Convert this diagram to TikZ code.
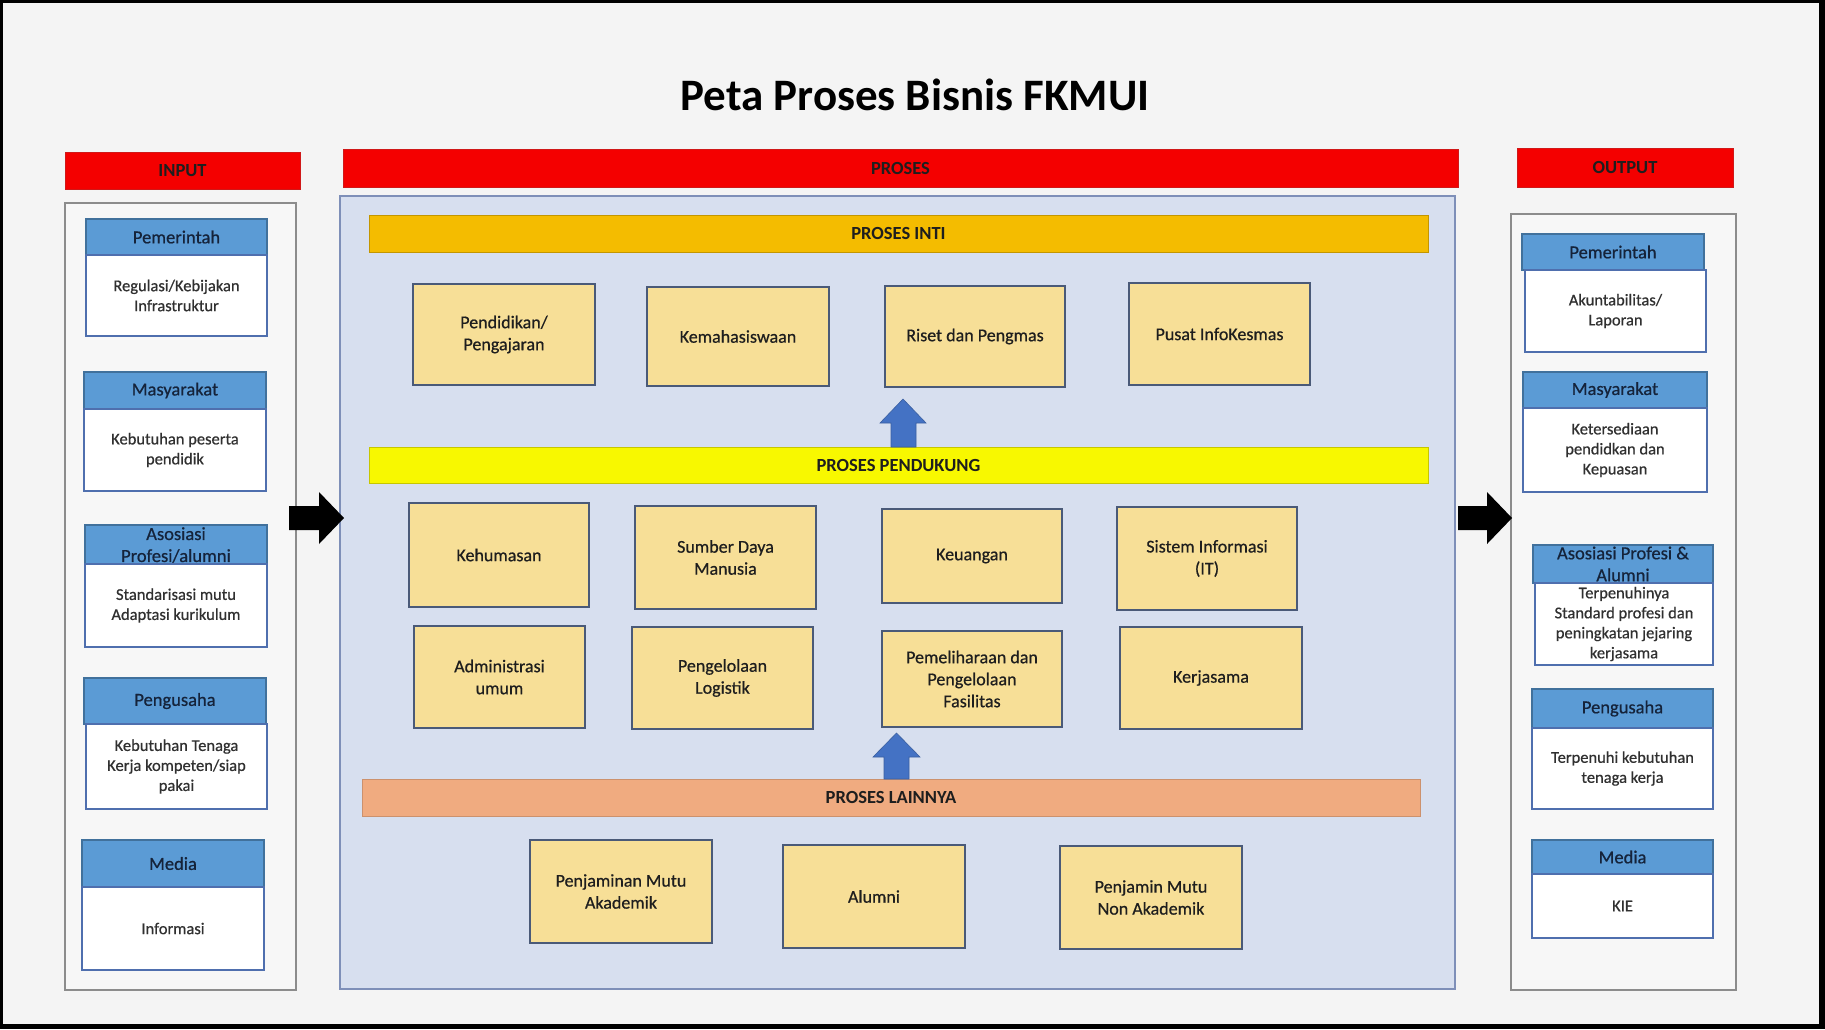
\documentclass[tikz,border=0pt]{standalone}
\usepackage{fontspec}
\setmainfont{Carlito}
\newfontface\carmed{Carlito}[FakeBold=0.6]
\definecolor{pagebg}{HTML}{F4F4F4}
\definecolor{barred}{HTML}{F40000}
\definecolor{barredb}{HTML}{D01818}
\definecolor{panelbd}{HTML}{8C8C8C}
\definecolor{panelfill}{HTML}{F7F7F7}
\definecolor{hdrblue}{HTML}{5B9BD5}
\definecolor{hdrblueb}{HTML}{41719C}
\definecolor{cardb}{HTML}{4F6FAE}
\definecolor{procfill}{HTML}{D7DFEF}
\definecolor{procb}{HTML}{7E8FB8}
\definecolor{boxfill}{HTML}{F7DF97}
\definecolor{boxb}{HTML}{4A5A78}
\definecolor{inti}{HTML}{F4BC00}
\definecolor{pend}{HTML}{F8F800}
\definecolor{lain}{HTML}{F0AB80}
\definecolor{arrblue}{HTML}{4472C4}
\definecolor{arrblueb}{HTML}{3A5FA0}
\definecolor{txt}{HTML}{1E1E1E}
\definecolor{hdrtxt}{HTML}{15233A}
\definecolor{bodytxt}{HTML}{303030}
\newcommand\fBar{\fontsize{18.5}{21}\selectfont\bfseries}
\newcommand\fHead{\fontsize{18.5}{22}\selectfont\carmed}
\newcommand\fBody{\fontsize{16.5}{20}\selectfont\carmed}
\newcommand\fBox{\fontsize{18}{22}\selectfont\carmed}
\newcommand\fTitle{\fontsize{45}{54}\selectfont\bfseries}
\newcommand\RBox[7]{\node[#2, minimum width={(#5)-(#3)}, minimum height={(#6)-(#4)}] (#1) at ({((#3)+(#5))/2},{((#4)+(#6))/2}) {#7};}
\tikzset{
  every node/.style={inner sep=0pt, outer sep=0pt, align=center},
  redbar/.style={draw=barredb, line width=0.8pt, fill=barred, font=\fBar, text=txt},
  panel/.style={draw=panelbd, line width=1.3pt, fill=panelfill},
  procpanel/.style={draw=procb, line width=1.5pt, fill=procfill},
  cardhead/.style={draw=hdrblueb, line width=1.3pt, fill=hdrblue, font=\fHead, text=hdrtxt},
  cardbody/.style={draw=cardb, line width=1.5pt, fill=white, font=\fBody, text=bodytxt},
  pbox/.style={draw=boxb, line width=1.6pt, fill=boxfill, font=\fBox, text=txt},
  intibar/.style={draw=inti!80!black, line width=0.5pt, fill=inti, font=\fBar, text=txt},
  pendbar/.style={draw=pend!80!black, line width=0.5pt, fill=pend, font=\fBar, text=txt},
  lainbar/.style={draw=lain!85!black, line width=0.5pt, fill=lain, font=\fBar, text=txt},
  uparrow/.style={fill=arrblue, draw=arrblueb, line width=0.6pt},
  blkarrow/.style={fill=black}
}
\begin{document}
\begin{tikzpicture}[x=1pt,y=-1pt]
\useasboundingbox (0,0) rectangle (1825,1029);
\fill[black] (0,0) rectangle (1825,1029);
\fill[pagebg] (3,3) rectangle (1819,1024);
% title
\node[font=\fTitle, text=black, anchor=base] (title) at (915,110) {Peta Proses Bisnis FKMUI};
% top bars
\RBox{inbar}{redbar}{65}{152}{300}{189}{INPUT}
\RBox{prbar}{redbar}{343}{149}{1458}{187}{PROSES}
\RBox{outbar}{redbar}{1517}{148}{1733}{187}{OUTPUT}
% panels
\RBox{inpanel}{panel}{65}{203}{296}{990}{}
\RBox{prpanel}{procpanel}{340}{196}{1455}{989}{}
\RBox{outpanel}{panel}{1511}{214}{1736}{990}{}
% input cards
\RBox{ih1}{cardhead}{86}{219}{267}{255}{Pemerintah}
\RBox{ib1}{cardbody}{86}{255}{267}{336}{Regulasi/Kebijakan\\Infrastruktur}
\RBox{ih2}{cardhead}{84}{372}{266}{409}{Masyarakat}
\RBox{ib2}{cardbody}{84}{409}{266}{491}{Kebutuhan peserta\\pendidik}
\RBox{ih3}{cardhead}{85}{525}{267}{564}{}
\node[font=\fHead, text=hdrtxt] (ih3t) at (176,545) {Asosiasi\\Profesi/alumni};
\RBox{ib3}{cardbody}{85}{564}{267}{647}{Standarisasi mutu\\Adaptasi kurikulum}
\RBox{ih4}{cardhead}{84}{678}{266}{724}{Pengusaha}
\RBox{ib4}{cardbody}{86}{724}{267}{809}{Kebutuhan Tenaga\\Kerja kompeten/siap\\pakai}
\RBox{ih5}{cardhead}{82}{840}{264}{887}{Media}
\RBox{ib5}{cardbody}{82}{887}{264}{970}{Informasi}
% output cards
\RBox{oh1}{cardhead}{1522}{234}{1704}{270}{Pemerintah}
\RBox{ob1}{cardbody}{1525}{270}{1706}{352}{Akuntabilitas/\\Laporan}
\RBox{oh2}{cardhead}{1523}{372}{1707}{408}{Masyarakat}
\RBox{ob2}{cardbody}{1523}{408}{1707}{492}{Ketersediaan\\pendidkan dan\\Kepuasan}
\RBox{oh3}{cardhead}{1533}{545}{1713}{583}{}
\node[font=\fHead, text=hdrtxt] (oh3t) at (1623,564) {Asosiasi Profesi \&\\Alumni};
\RBox{ob3}{cardbody}{1535}{583}{1713}{665}{Terpenuhinya\\Standard profesi dan\\peningkatan jejaring\\kerjasama}
\RBox{oh4}{cardhead}{1532}{689}{1713}{728}{Pengusaha}
\RBox{ob4}{cardbody}{1532}{728}{1713}{809}{Terpenuhi kebutuhan\\tenaga kerja}
\RBox{oh5}{cardhead}{1532}{840}{1713}{874}{Media}
\RBox{ob5}{cardbody}{1532}{874}{1713}{938}{KIE}
% process bars
\RBox{inti}{intibar}{369}{215}{1428}{252}{PROSES INTI}
\RBox{pend}{pendbar}{369}{447}{1428}{483}{PROSES PENDUKUNG}
\RBox{lain}{lainbar}{362}{779}{1420}{816}{PROSES LAINNYA}
% core boxes
\RBox{pdd}{pbox}{413}{284}{595}{385}{Pendidikan/\\Pengajaran}
\RBox{kmh}{pbox}{647}{287}{829}{386}{Kemahasiswaan}
\RBox{rst}{pbox}{885}{286}{1065}{387}{Riset dan Pengmas}
\RBox{pst}{pbox}{1129}{283}{1310}{385}{Pusat InfoKesmas}
% support boxes
\RBox{khm}{pbox}{409}{503}{589}{607}{Kehumasan}
\RBox{sdm}{pbox}{635}{506}{816}{609}{Sumber Daya\\Manusia}
\RBox{keu}{pbox}{882}{509}{1062}{603}{Keuangan}
\RBox{sis}{pbox}{1117}{507}{1297}{610}{Sistem Informasi\\(IT)}
\RBox{adm}{pbox}{414}{626}{585}{728}{Administrasi\\umum}
\RBox{log}{pbox}{632}{627}{813}{729}{Pengelolaan\\Logistik}
\RBox{pml}{pbox}{882}{631}{1062}{727}{Pemeliharaan dan\\Pengelolaan\\Fasilitas}
\RBox{krj}{pbox}{1120}{627}{1302}{729}{Kerjasama}
% other boxes
\RBox{pma}{pbox}{530}{840}{712}{943}{Penjaminan Mutu\\Akademik}
\RBox{alm}{pbox}{783}{845}{965}{948}{Alumni}
\RBox{pmn}{pbox}{1060}{846}{1242}{949}{Penjamin Mutu\\Non Akademik}
% up arrows
\draw[uparrow] (891,447) -- (891,423) -- (880,423) -- (903,399) -- (926,423) -- (916,423) -- (916,447) -- cycle;
\draw[uparrow] (884,779) -- (884,757) -- (873,757) -- (896.5,733) -- (920,757) -- (909,757) -- (909,779) -- cycle;
% black arrows
\fill[blkarrow] (289,506) -- (319,506) -- (319,492) -- (344,518) -- (319,544) -- (319,530) -- (289,530) -- cycle;
\fill[blkarrow] (1458,506) -- (1487,506) -- (1487,492) -- (1512,518) -- (1487,544) -- (1487,530) -- (1458,530) -- cycle;
\end{tikzpicture}
\end{document}
